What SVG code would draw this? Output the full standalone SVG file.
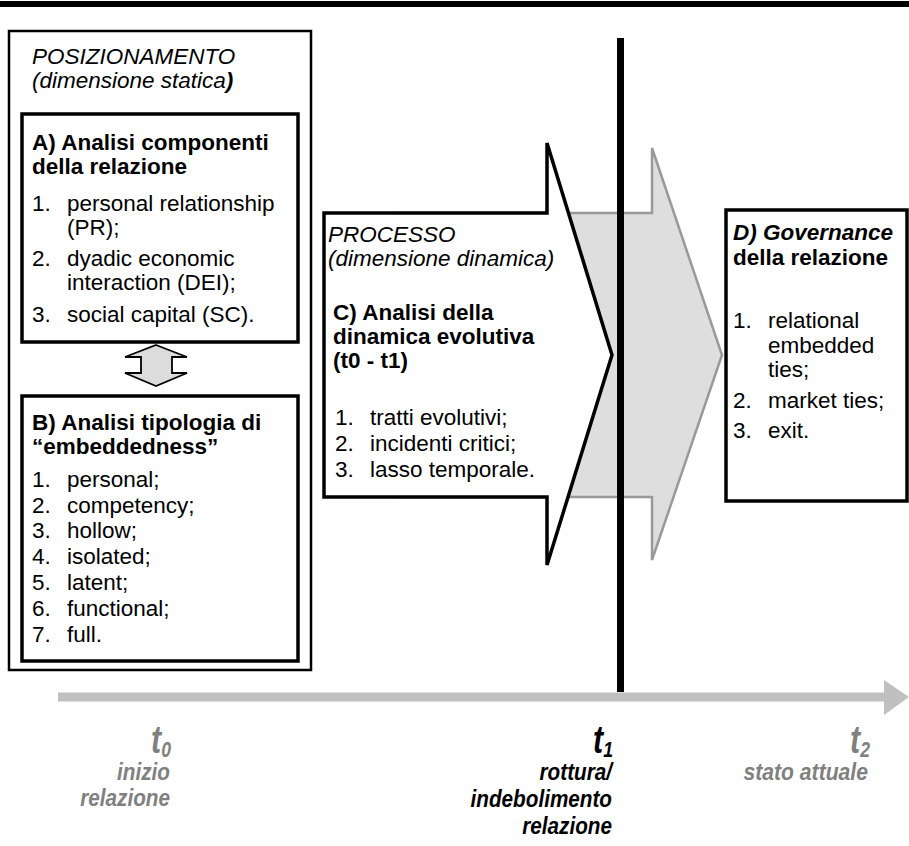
<svg xmlns="http://www.w3.org/2000/svg" width="909" height="846" viewBox="0 0 909 846">
<style>
text{font-family:"Liberation Sans",Arial,sans-serif;font-size:22.5px;fill:#000}
.b{font-weight:bold}
.i{font-style:italic}
.box{fill:#fff;stroke:#000;stroke-width:3.5}
.tl{font-weight:bold;font-style:italic;font-size:23px}
.big{font-weight:bold;font-style:italic;font-size:38px}
.sub{font-weight:bold;font-style:italic;font-size:22px}
.gray{fill:#808080}
</style>
<rect x="0" y="1" width="909" height="6" fill="#000"/>

<g id="connectors">
  <path id="arrowGray" d="M400,213 L652,213 L652,148 L722,355 L652,560 L652,497 L400,497 Z" fill="#dedede" stroke="#999" stroke-width="2.5"/>
  <line x1="58" y1="697" x2="888" y2="697" stroke="#c0c0c0" stroke-width="9"/>
  <polygon points="884,680 909,697 884,715" fill="#c0c0c0"/>
</g>

<g id="positioning">
  <rect x="9" y="31" width="302" height="639" fill="#fff" stroke="#000" stroke-width="2.5"/>
  <text x="32" y="64" class="i">POSIZIONAMENTO</text>
  <text x="32" y="88" class="i">(dimensione statica<tspan class="b">)</tspan></text>
</g>

<g id="boxA">
  <rect x="22" y="114" width="276" height="228" class="box"/>
  <text x="32" y="150" class="b">A) Analisi componenti</text>
  <text x="32" y="174" class="b">della relazione</text>
  <text x="32" y="211">1.</text><text x="67" y="211">personal relationship</text>
  <text x="67" y="235">(PR);</text>
  <text x="32" y="266">2.</text><text x="67" y="266">dyadic economic</text>
  <text x="67" y="290">interaction (DEI);</text>
  <text x="32" y="322">3.</text><text x="67" y="322">social capital (SC).</text>
</g>

<g id="doubleArrow">
  <polygon points="156,345 187,357 172,357 172,373 187,373 156,386 125,373 141,373 141,357 125,357" fill="#dcdcdc" stroke="#000" stroke-width="1.8" stroke-linejoin="miter"/>
</g>

<g id="boxB">
  <rect x="22" y="396" width="276" height="265" class="box"/>
  <text x="32" y="430" class="b">B) Analisi tipologia di</text>
  <text x="32" y="454" class="b">“embeddedness”</text>
  <text x="32" y="487">1.</text><text x="67" y="487">personal;</text>
  <text x="32" y="513">2.</text><text x="67" y="513">competency;</text>
  <text x="32" y="538">3.</text><text x="67" y="538">hollow;</text>
  <text x="32" y="564">4.</text><text x="67" y="564">isolated;</text>
  <text x="32" y="590">5.</text><text x="67" y="590">latent;</text>
  <text x="32" y="616">6.</text><text x="67" y="616">functional;</text>
  <text x="32" y="642">7.</text><text x="67" y="642">full.</text>
</g>

<g id="processC">
  <path d="M324,213 L547,213 L547,143 L612,355 L547,565 L547,497 L324,497 Z" fill="#fff" stroke="#000" stroke-width="3.5" stroke-linejoin="miter"/>
  <text x="328" y="242" class="i">PROCESSO</text>
  <text x="328" y="266" class="i">(dimensione dinamica)</text>
  <text x="333" y="320" class="b">C) Analisi della</text>
  <text x="333" y="344" class="b">dinamica evolutiva</text>
  <text x="333" y="368" class="b">(t0 - t1)</text>
  <text x="335" y="425">1.</text><text x="370" y="425">tratti evolutivi;</text>
  <text x="335" y="451">2.</text><text x="370" y="451">incidenti critici;</text>
  <text x="335" y="477">3.</text><text x="370" y="477">lasso temporale.</text>
</g>

<g id="boxD">
  <rect x="726" y="210" width="181" height="291" class="box"/>
  <text x="733" y="240" class="b i">D) Governance</text>
  <text x="733" y="265" class="b">della relazione</text>
  <text x="733" y="328">1.</text><text x="768" y="328">relational</text>
  <text x="768" y="353">embedded</text>
  <text x="768" y="377">ties;</text>
  <text x="733" y="408">2.</text><text x="768" y="408">market ties;</text>
  <text x="733" y="438">3.</text><text x="768" y="438">exit.</text>
</g>

<g id="cutLine">
  <rect x="617" y="38" width="7" height="654" fill="#000"/>
</g>

<g id="t0">
  <text transform="translate(171,753) scale(0.8,1)" text-anchor="end" class="big gray">t<tspan class="sub" dy="4">0</tspan></text>
  <text transform="translate(170,780) scale(0.9,1)" text-anchor="end" class="tl gray">inizio</text>
  <text transform="translate(170,806) scale(0.9,1)" text-anchor="end" class="tl gray">relazione</text>
</g>
<g id="t1">
  <text transform="translate(613,753) scale(0.8,1)" text-anchor="end" class="big">t<tspan class="sub" dy="4">1</tspan></text>
  <text transform="translate(612,780) scale(0.9,1)" text-anchor="end" class="tl">rottura/</text>
  <text transform="translate(612,807) scale(0.9,1)" text-anchor="end" class="tl">indebolimento</text>
  <text transform="translate(612,834) scale(0.9,1)" text-anchor="end" class="tl">relazione</text>
</g>
<g id="t2">
  <text transform="translate(870,753) scale(0.8,1)" text-anchor="end" class="big gray">t<tspan class="sub" dy="4">2</tspan></text>
  <text transform="translate(868,780) scale(0.92,1)" text-anchor="end" class="tl gray">stato attuale</text>
</g>
</svg>
